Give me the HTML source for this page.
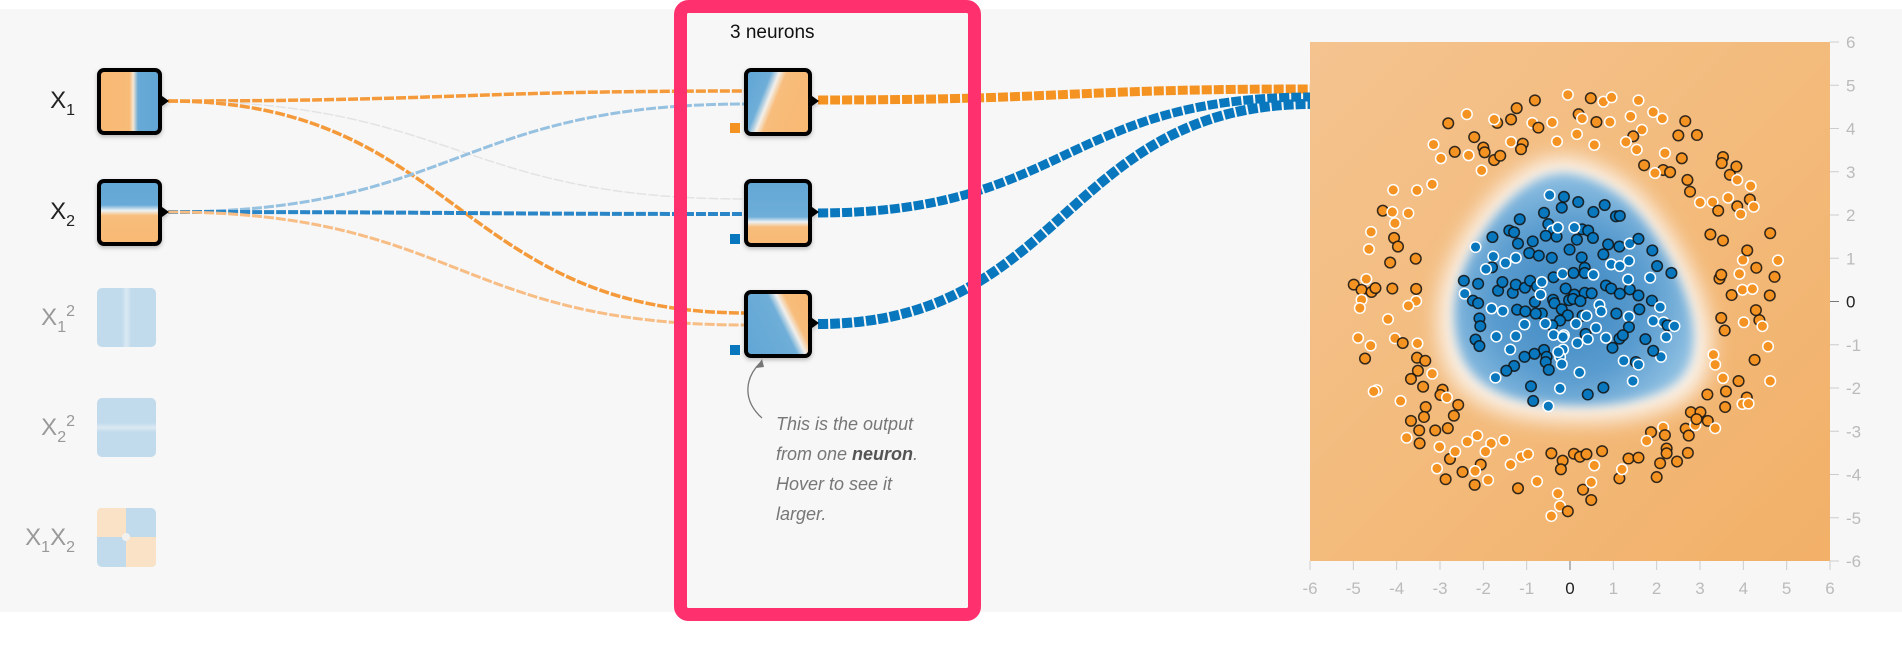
<!DOCTYPE html>
<html><head><meta charset="utf-8"><style>
html,body{margin:0;padding:0;width:1902px;height:660px;background:#fff;overflow:hidden;font-family:"Liberation Sans",sans-serif}
svg{position:absolute;left:0;top:0}
</style></head><body>
<svg id="main" width="1902" height="660">
<defs>
<linearGradient id="gX1" x1="0" x2="1" y1="0" y2="0"><stop offset="0" stop-color="#f8b973"/><stop offset="0.5" stop-color="#f8bb78"/><stop offset="0.56" stop-color="#f6e6d2"/><stop offset="0.64" stop-color="#67a9d6"/><stop offset="1" stop-color="#62a6d5"/></linearGradient>
<linearGradient id="gX2" x1="0" x2="0" y1="0" y2="1"><stop offset="0" stop-color="#63a7d6"/><stop offset="0.38" stop-color="#68aad7"/><stop offset="0.47" stop-color="#eef2f4"/><stop offset="0.55" stop-color="#f8bd7b"/><stop offset="1" stop-color="#f8b973"/></linearGradient>
<linearGradient id="gX1s" x1="0" x2="1"><stop offset="0" stop-color="#c1dbec"/><stop offset="0.42" stop-color="#c1dbec"/><stop offset="0.5" stop-color="#dce9f2"/><stop offset="0.58" stop-color="#c1dbec"/><stop offset="1" stop-color="#c1dbec"/></linearGradient>
<linearGradient id="gX2s" x1="0" x2="0" y1="0" y2="1"><stop offset="0" stop-color="#c1dbec"/><stop offset="0.42" stop-color="#c1dbec"/><stop offset="0.5" stop-color="#dce9f2"/><stop offset="0.58" stop-color="#c1dbec"/><stop offset="1" stop-color="#c1dbec"/></linearGradient>
<linearGradient id="gN1" x1="0" y1="0.3" x2="1" y2="0.7"><stop offset="0" stop-color="#63a7d6"/><stop offset="0.25" stop-color="#6eaed8"/><stop offset="0.36" stop-color="#f3efe9"/><stop offset="0.46" stop-color="#f8bd7b"/><stop offset="1" stop-color="#f8b973"/></linearGradient>
<linearGradient id="gN2" x1="0" x2="0" y1="0" y2="1"><stop offset="0" stop-color="#63a7d6"/><stop offset="0.56" stop-color="#6eaed8"/><stop offset="0.64" stop-color="#eef2f4"/><stop offset="0.72" stop-color="#f8bd7b"/><stop offset="1" stop-color="#f8b973"/></linearGradient>
<linearGradient id="gN3" x1="0" y1="0.75" x2="1" y2="0.25"><stop offset="0" stop-color="#63a7d6"/><stop offset="0.55" stop-color="#6eaed8"/><stop offset="0.66" stop-color="#f1efec"/><stop offset="0.76" stop-color="#f8bd7b"/><stop offset="1" stop-color="#f8b973"/></linearGradient>
<linearGradient id="gBg" x1="0" y1="0" x2="1" y2="1"><stop offset="0" stop-color="#f4c38f"/><stop offset="0.5" stop-color="#f3bb7c"/><stop offset="1" stop-color="#f2b068"/></linearGradient>
<radialGradient id="gBlob" cx="0.48" cy="0.55" r="0.55"><stop offset="0" stop-color="#3d87c1"/><stop offset="0.6" stop-color="#5a9ccf"/><stop offset="1" stop-color="#8fc0e2"/></radialGradient>
<filter id="blur8" x="-30%" y="-30%" width="160%" height="160%"><feGaussianBlur stdDeviation="10"/></filter>
<filter id="blur4" x="-30%" y="-30%" width="160%" height="160%"><feGaussianBlur stdDeviation="5"/></filter>
<filter id="shadow" x="-20%" y="-20%" width="140%" height="150%"><feDropShadow dx="0" dy="2" stdDeviation="2" flood-color="#000" flood-opacity="0.25"/></filter>
<clipPath id="plotClip"><rect x="1310" y="42" width="520" height="519"/></clipPath>
</defs>
<rect x="0" y="9" width="1902" height="603" fill="#f7f7f7"/>
<g id="links"></g>

<text x="75" y="108" font-size="24" text-anchor="end" fill="#222">X<tspan font-size="16" dy="7">1</tspan></text>
<text x="75" y="219" font-size="24" text-anchor="end" fill="#222">X<tspan font-size="16" dy="7">2</tspan></text>
<text x="75" y="325" font-size="24" text-anchor="end" fill="#999">X<tspan font-size="16" dy="7">1</tspan><tspan font-size="16" dy="-16">2</tspan></text>
<text x="75" y="435" font-size="24" text-anchor="end" fill="#999">X<tspan font-size="16" dy="7">2</tspan><tspan font-size="16" dy="-16">2</tspan></text>
<text x="75" y="545" font-size="24" text-anchor="end" fill="#999">X<tspan font-size="16" dy="7">1</tspan><tspan dy="-7">X</tspan><tspan font-size="16" dy="7">2</tspan></text>

<g filter="url(#shadow)"><rect x="99" y="70" width="61" height="63" rx="5" fill="url(#gX1)" stroke="#000" stroke-width="4"/><path d="M162,96 L169,101 L162,106Z" fill="#000"/></g>
<g filter="url(#shadow)"><rect x="99" y="181" width="61" height="63" rx="5" fill="url(#gX2)" stroke="#000" stroke-width="4"/><path d="M162,207 L169,212 L162,217Z" fill="#000"/></g>
<rect x="97" y="288" width="59" height="59" rx="5" fill="url(#gX1s)"/>
<rect x="97" y="398" width="59" height="59" rx="5" fill="url(#gX2s)"/>
<g><rect x="97" y="508" width="59" height="59" rx="5" fill="#c1dbec"/><path d="M102,508 H126 V537 H97 V513 Q97,508 102,508Z" fill="#f9e2c5"/><path d="M126,537 H156 V562 Q156,567 151,567 H126Z" fill="#f9e2c5"/><circle cx="126" cy="537" r="4" fill="#f3f1ee"/></g>

<rect x="680.5" y="6.5" width="294" height="608" rx="8" fill="none" stroke="#fe306e" stroke-width="13"/>
<text x="730" y="38" font-size="19" fill="#111">3 neurons</text>

<g filter="url(#shadow)"><rect x="746" y="70" width="64" height="64" rx="5" fill="url(#gN1)" stroke="#000" stroke-width="4"/><path d="M812,96 L819,101 L812,106Z" fill="#000"/></g>
<g filter="url(#shadow)"><rect x="746" y="181" width="64" height="64" rx="5" fill="url(#gN2)" stroke="#000" stroke-width="4"/><path d="M812,207 L819,212 L812,217Z" fill="#000"/></g>
<g filter="url(#shadow)"><rect x="746" y="292" width="64" height="64" rx="5" fill="url(#gN3)" stroke="#000" stroke-width="4"/><path d="M812,318 L819,323 L812,328Z" fill="#000"/></g>
<rect x="730" y="123" width="10" height="10" fill="#f59322"/>
<rect x="730" y="234" width="10" height="10" fill="#0877bd"/>
<rect x="730" y="345" width="10" height="10" fill="#0877bd"/>

<path d="M762,418 C742,400 745,378 760,363" fill="none" stroke="#777" stroke-width="1.3"/>
<path d="M762,359 L756,368 L764,367Z" fill="#777"/>
<g font-size="18" font-style="italic" fill="#777">
<text x="776" y="430">This is the output</text>
<text x="776" y="460">from one <tspan font-weight="bold" fill="#555">neuron</tspan>.</text>
<text x="776" y="490">Hover to see it</text>
<text x="776" y="520">larger.</text>
</g>

<g>
<rect x="1310" y="42" width="520" height="519" fill="url(#gBg)"/>
<g clip-path="url(#plotClip)" id="blobLayer"></g>
<g id="points"></g>
<g id="axes"></g>
</g>
</svg>
<script>
// ---- link data ----
const linkFrom = [101, 101, 101, 212, 212, 212];
const linkTo = [91, 199, 313, 104, 214, 325];
const linkColors = ['#f59a3a', '#e3e3e3', '#f59a3a', '#96c1e0', '#2a86c6', '#f7bd85'];
const linkWeights = [3.5, 1.5, 3.5, 3, 4, 3];
const outFrom = [100, 213, 324];
const outTo = [89, 97, 104];
const outColors = ['#f59322', '#0877bd', '#0877bd'];
const outWeights = [9, 9, 10];

// ---- output data (x, y, isTest) ----
const orangePts = [[-0.05,4.78,0],[0.48,4.70,1],[0.77,4.62,0],[0.96,4.72,0],[1.58,4.65,0],[-0.81,4.65,1],[-1.23,4.47,1],[-1.36,4.21,1],[-1.68,4.13,1],[-1.75,4.21,0],[-2.38,4.33,0],[-2.81,4.12,1],[-2.21,3.80,1],[-2.00,3.56,1],[-1.97,3.45,1],[-1.75,3.27,1],[-1.61,3.37,1],[-1.36,3.69,0],[-1.09,3.65,1],[-1.13,3.52,1],[-0.87,4.13,0],[-0.73,4.02,1],[-0.41,4.14,0],[-0.30,3.70,0],[0.16,3.87,0],[0.20,4.33,1],[0.28,4.23,0],[0.61,4.15,1],[0.92,4.15,0],[0.56,3.62,0],[1.40,4.28,0],[1.66,3.97,0],[1.46,3.82,1],[1.29,3.69,0],[1.54,3.51,0],[1.71,3.15,1],[1.92,4.38,0],[2.13,4.23,0],[2.19,3.43,0],[2.15,3.04,1],[2.31,2.99,1],[1.96,2.97,0],[2.50,3.84,1],[2.58,3.31,1],[2.66,4.17,1],[2.93,3.85,1],[2.71,2.81,1],[2.77,2.54,1],[3.00,2.29,0],[3.29,2.30,0],[3.42,2.10,1],[3.53,3.34,1],[3.50,3.20,1],[3.84,3.12,1],[3.69,2.93,1],[3.86,2.81,0],[4.17,2.67,0],[4.15,2.36,1],[3.86,2.20,1],[3.65,2.40,0],[4.24,2.19,0],[-3.15,3.63,0],[-2.98,3.31,0],[-2.66,3.46,1],[-2.34,3.38,0],[-2.04,3.03,0],[-3.18,2.71,0],[-3.53,2.57,0],[-4.08,2.58,0],[-4.32,2.10,1],[-4.10,2.07,0],[-3.73,2.04,0],[-4.59,1.61,0],[-4.64,1.21,0],[-4.06,1.47,1],[-3.97,1.27,1],[-4.15,0.90,1],[-3.56,0.99,1],[-4.04,1.81,0],[-4.99,0.39,1],[-4.81,0.27,1],[-4.58,0.22,1],[-4.49,0.31,1],[-4.70,0.52,0],[-4.81,0.04,0],[-4.85,-0.15,0],[-4.10,0.30,1],[-3.55,0.29,1],[-3.55,0.01,0],[-3.73,-0.10,0],[-4.20,-0.41,0],[-4.89,-0.84,0],[-4.60,-1.02,0],[-4.73,-1.32,1],[-4.04,-0.85,0],[-3.86,-0.96,1],[-3.52,-0.97,0],[-3.53,-1.30,1],[-3.34,-1.37,1],[-3.51,-1.60,1],[-3.18,-1.67,0],[-3.67,-1.79,1],[-3.39,-1.97,1],[-2.94,-2.04,1],[-2.99,-2.16,1],[-2.84,-2.22,0],[-2.58,-2.39,1],[-2.68,-2.64,1],[-3.33,-2.44,1],[-3.37,-2.67,1],[-3.67,-2.76,1],[-3.91,-2.30,0],[-4.46,-2.05,0],[-4.53,-2.08,0],[-3.48,-2.98,1],[-3.47,-3.28,1],[-3.11,-2.98,1],[-2.82,-2.93,1],[-3.77,-3.15,0],[-3.01,-3.36,0],[-2.77,-3.64,1],[-2.65,-3.47,0],[-3.07,-3.86,0],[-2.87,-4.11,1],[-2.48,-3.94,1],[-2.20,-4.24,1],[-2.06,-3.77,1],[-2.19,-3.92,0],[-1.89,-4.13,0],[-2.14,-3.10,0],[-2.37,-3.24,0],[-1.82,-3.28,0],[-1.95,-3.47,0],[-1.52,-3.21,0],[-1.37,-3.77,0],[-1.12,-3.59,0],[-0.97,-3.53,0],[-1.20,-4.32,1],[-0.76,-4.16,0],[-0.43,-3.51,1],[-0.17,-3.68,1],[-0.21,-3.88,1],[0.09,-3.52,1],[0.23,-3.59,1],[0.38,-3.53,1],[0.74,-3.46,1],[0.56,-3.79,0],[-0.28,-4.44,0],[-0.23,-4.73,0],[-0.43,-4.96,0],[-0.05,-4.85,1],[0.30,-4.35,1],[0.49,-4.18,0],[0.49,-4.59,1],[1.14,-4.09,1],[1.35,-3.63,1],[1.20,-3.88,0],[1.58,-3.61,1],[1.87,-3.02,1],[1.77,-3.22,0],[2.15,-2.91,0],[2.19,-3.09,1],[2.23,-3.40,1],[2.23,-3.51,1],[2.08,-3.74,1],[2.00,-4.06,1],[2.47,-3.70,1],[2.72,-3.50,1],[2.67,-2.94,1],[2.74,-3.10,1],[2.89,-2.86,0],[2.79,-2.56,1],[3.01,-2.56,1],[2.92,-2.72,1],[3.18,-2.76,1],[3.35,-2.93,0],[3.17,-2.15,1],[3.60,-2.08,1],[3.58,-2.44,1],[3.89,-1.84,1],[4.08,-2.22,1],[3.98,-2.37,0],[4.12,-2.36,0],[4.62,-1.84,0],[3.31,-1.23,0],[3.35,-1.46,0],[3.53,-1.77,0],[4.26,-1.35,1],[4.57,-1.04,0],[3.57,-0.67,1],[3.49,-0.38,1],[4.01,-0.48,0],[4.37,-0.43,1],[4.29,-0.20,1],[4.44,-0.57,0],[4.61,0.14,1],[3.73,0.15,1],[3.98,0.27,0],[4.21,0.29,0],[4.72,0.57,1],[4.80,0.95,0],[3.45,0.53,1],[3.49,0.62,1],[3.91,0.64,0],[4.30,0.78,1],[3.99,0.96,0],[4.09,1.18,1],[3.53,1.41,1],[3.24,1.55,1],[4.62,1.58,1],[3.94,2.02,0]];
const bluePts = [[-0.47,2.46,0],[-0.14,2.42,1],[0.19,2.30,1],[0.80,2.23,1],[0.54,2.07,1],[-0.19,2.17,1],[-0.60,2.05,1],[-0.50,1.79,1],[-0.41,1.64,0],[-0.31,1.50,1],[-0.56,1.52,1],[-1.16,1.90,1],[-1.40,1.64,1],[-1.29,1.60,1],[-1.20,1.34,1],[-1.79,1.49,1],[-2.18,1.26,0],[-1.77,1.04,0],[-1.49,0.89,0],[-1.25,1.01,0],[-1.80,0.79,1],[-1.94,0.75,0],[-0.94,1.12,1],[-0.86,1.39,1],[-0.72,1.06,1],[-0.42,1.01,1],[-0.01,1.20,1],[0.16,1.43,1],[0.28,1.67,1],[0.42,1.64,1],[0.53,1.47,1],[0.27,1.02,1],[0.10,1.71,0],[-0.28,1.71,0],[1.06,1.97,1],[1.15,1.98,1],[0.88,1.32,1],[1.14,1.27,1],[1.38,1.34,0],[1.58,1.45,1],[1.90,1.18,1],[2.01,0.82,1],[2.34,0.66,1],[1.85,0.55,0],[0.77,1.09,1],[0.95,0.86,0],[1.36,0.94,0],[1.15,0.82,0],[-2.45,0.48,1],[-2.43,0.18,0],[-2.12,0.41,1],[-1.66,0.25,1],[-1.56,0.45,1],[-1.32,0.20,1],[-1.25,0.39,1],[-1.04,0.32,1],[-0.92,0.48,1],[-0.76,0.35,1],[-0.65,0.45,0],[-0.38,0.56,1],[-0.17,0.64,0],[0.08,0.66,1],[0.34,0.78,1],[0.34,0.66,1],[0.54,0.62,0],[-0.10,0.30,1],[0.10,0.16,1],[0.34,0.20,1],[0.50,0.19,1],[0.83,0.37,1],[0.95,0.30,1],[1.15,0.18,1],[1.38,0.28,1],[1.58,0.14,1],[1.34,0.51,0],[-2.24,0.02,1],[-2.12,-0.04,1],[-2.09,-0.39,1],[-2.07,-0.57,1],[-1.81,-0.16,0],[-1.55,-0.22,0],[-1.22,-0.19,1],[-1.03,-0.23,1],[-0.81,-0.01,1],[-0.68,0.16,0],[-0.39,0.04,1],[-0.36,-0.04,1],[-0.19,-0.18,1],[-0.02,0.03,1],[0.07,0.06,1],[0.24,0.01,1],[0.29,-0.33,1],[-0.05,-0.32,1],[-0.23,-0.44,1],[-0.41,-0.55,1],[-0.65,-0.28,1],[-0.79,-0.28,1],[-1.05,-0.53,0],[-0.57,-0.51,0],[-0.38,-0.77,0],[-0.14,-0.78,0],[0.14,-0.51,0],[0.38,-0.33,0],[0.60,-0.61,0],[0.68,-0.08,0],[0.72,-0.23,0],[1.07,-0.28,1],[1.36,-0.35,0],[1.36,-0.59,1],[1.60,-0.18,1],[1.89,0.02,1],[2.08,-0.13,0],[2.16,-0.48,0],[2.25,-0.55,1],[2.41,-0.57,0],[1.92,-0.45,0],[2.22,-0.82,0],[2.10,-1.28,0],[1.92,-1.14,1],[1.74,-0.87,1],[1.52,-1.40,1],[1.58,-1.46,0],[1.45,-1.84,0],[1.24,-1.37,0],[1.14,-0.86,1],[0.98,-1.07,1],[1.22,-0.78,1],[0.83,-0.84,0],[0.36,-0.75,1],[0.41,-0.87,0],[0.17,-0.96,0],[-0.16,-0.82,0],[-0.16,-1.11,0],[-0.23,-1.28,0],[-0.19,-1.45,0],[-0.27,-1.17,0],[-0.60,-1.12,1],[-0.54,-1.28,1],[-0.56,-1.40,1],[-0.49,-1.58,1],[-0.82,-1.21,1],[-1.05,-1.28,1],[-1.29,-1.49,1],[-1.47,-1.60,1],[-1.38,-1.11,0],[-1.25,-0.80,0],[-1.70,-0.81,0],[-2.18,-0.88,1],[-2.09,-1.03,1],[-1.72,-1.76,0],[-0.90,-1.96,1],[-0.85,-2.30,1],[-0.50,-2.42,0],[-0.23,-2.01,0],[0.22,-1.64,0],[0.41,-2.15,1],[0.77,-1.99,1]];
// decision-region outline (data units)
const blobX = [-0.4, 0.6, 1.6, 2.6, 3.0, 2.7, 1.5, 0.0, -1.6, -2.6, -2.8, -2.3, -1.4];
const blobY = [3.1, 2.9, 2.2, 0.6, -0.8, -1.9, -2.4, -2.5, -2.3, -1.5, 0.0, 1.3, 2.5];
const tickValues = [-6,-5,-4,-3,-2,-1,0,1,2,3,4,5,6];

const NS = 'http://www.w3.org/2000/svg';
const PX0 = 1310, PX1 = 1830, PY0 = 561, PY1 = 42;
const xS = v => PX0 + (v + 6) / 12 * (PX1 - PX0);
const yS = v => PY0 - (v + 6) / 12 * (PY0 - PY1);
function mk(tag, attrs, parent) { const e = document.createElementNS(NS, tag); for (const k in attrs) e.setAttribute(k, attrs[k]); parent.appendChild(e); return e; }
function curve(x0, y0, x1, y1) { const mx = (x0 + x1) / 2; return `M${x0},${y0} C${mx},${y0} ${mx},${y1} ${x1},${y1}`; }

const links = document.getElementById('links');
linkFrom.forEach((y0, i) => {
  const p = mk('path', { d: curve(168, y0, 746, linkTo[i]), fill: 'none', stroke: linkColors[i], 'stroke-width': linkWeights[i], 'stroke-dasharray': '10,2' }, links);
  
  
});
outFrom.forEach((y0, i) => {
  const p = mk('path', { d: curve(818, y0, 1312, outTo[i]), fill: 'none', stroke: outColors[i], 'stroke-width': outWeights[i], 'stroke-dasharray': '10,2' }, links);
  
  
});

// decision region
const blobLayer = document.getElementById('blobLayer');
function blobPath(scale) {
  const cx = 0.0, cy = 0.3;
  const pts = blobX.map((x, i) => [xS(cx + (x - cx) * scale), yS(cy + (blobY[i] - cy) * scale)]);
  let d = 'M' + ((pts[0][0] + pts[pts.length - 1][0]) / 2) + ',' + ((pts[0][1] + pts[pts.length - 1][1]) / 2);
  for (let i = 0; i < pts.length; i++) { const n = pts[(i + 1) % pts.length]; d += ` Q${pts[i][0]},${pts[i][1]} ${(pts[i][0] + n[0]) / 2},${(pts[i][1] + n[1]) / 2}`; }
  return d + 'Z';
}
const halo = mk('path', { d: blobPath(1.12), fill: '#fbf3ea', filter: 'url(#blur8)' }, blobLayer);


const blob = mk('path', { d: blobPath(0.98), fill: 'url(#gBlob)', filter: 'url(#blur4)' }, blobLayer);



const ptsG = document.getElementById('points');
function drawPts(arr, color, name) {
  arr.forEach(p => {
    const c = mk('circle', { cx: xS(p[0]), cy: yS(p[1]), r: 5.3, fill: color, stroke: p[2] ? '#111' : '#fff', 'stroke-width': 1.5, 'stroke-opacity': p[2] ? 0.85 : 1 }, ptsG);
    
    
  });
}
drawPts(orangePts, '#f59322', 'orange-point');
drawPts(bluePts, '#0877bd', 'blue-point');

const axes = document.getElementById('axes');
tickValues.forEach(v => {
  const col = v === 0 ? '#222' : '#bbb';
  const tcol = v === 0 ? '#777' : '#ccc';
  const tx = mk('line', { x1: xS(v), x2: xS(v), y1: PY0, y2: PY0 + 9, stroke: tcol, 'stroke-width': 1 }, axes);
  
  
  const lx = mk('text', { x: xS(v), y: PY0 + 33, 'font-size': 17, 'text-anchor': 'middle', fill: col }, axes);
  lx.textContent = v;
  
  
  const ty = mk('line', { x1: PX1, x2: PX1 + 9, y1: yS(v), y2: yS(v), stroke: tcol, 'stroke-width': 1 }, axes);
  
  
  const ly = mk('text', { x: PX1 + 16, y: yS(v) + 6, 'font-size': 17, 'text-anchor': 'start', fill: col }, axes);
  ly.textContent = v;
  
  
});
</script>
</body></html>
